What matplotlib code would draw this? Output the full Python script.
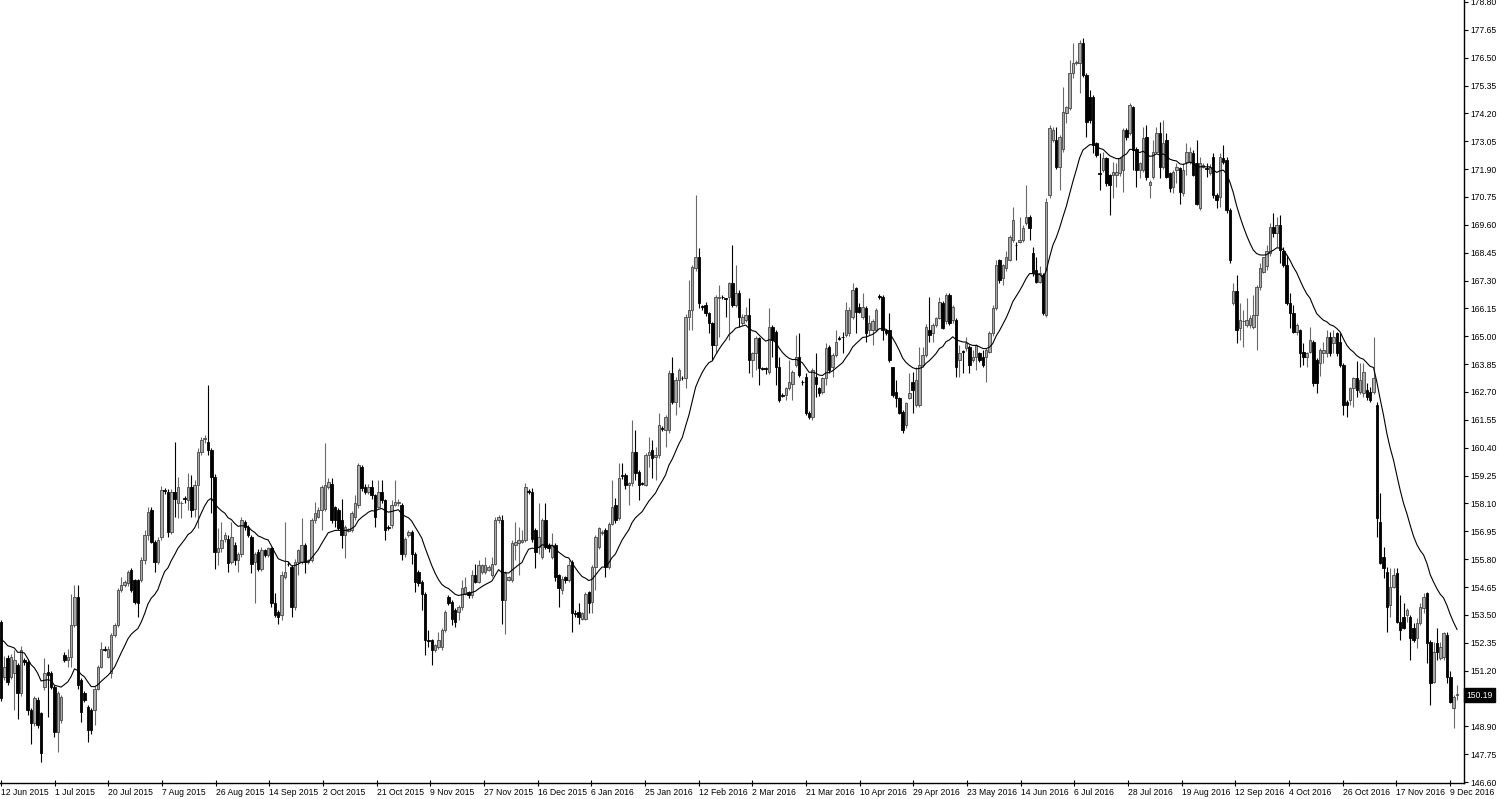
import matplotlib
matplotlib.use("Agg")
import matplotlib.pyplot as plt
import numpy as np

plt.rcParams['font.family'] = ['Liberation Sans', 'DejaVu Sans']

# Daily OHLC (one bar per trading day incl. Sunday bars)
opens = [
    153.21, 150.94, 151.70, 150.94, 151.08, 151.42, 150.26, 151.63, 151.56, 149.57,
    149.02, 149.98, 149.43, 150.53, 151.15, 151.08, 150.53, 148.67, 149.15, 151.84,
    151.63, 151.77, 153.08, 154.25, 150.81, 150.26, 149.70, 149.57, 149.57, 150.46,
    151.36, 152.11, 151.77, 151.08, 152.66, 153.08, 154.52, 154.73, 154.80, 155.35,
    154.93, 154.93, 154.93, 155.76, 156.80, 157.82, 156.51, 155.69, 156.72, 158.65,
    158.58, 156.93, 158.58, 158.10, 158.10, 158.30, 158.24, 158.79, 157.89, 158.85,
    160.23, 160.75, 160.64, 160.30, 159.20, 156.10, 156.24, 156.65, 156.65, 155.69,
    156.38, 155.76, 156.03, 157.34, 157.13, 156.72, 155.69, 156.10, 155.41, 156.17,
    155.96, 156.24, 153.97, 153.62, 153.49, 155.07, 155.62, 155.48, 153.83, 155.69,
    155.69, 156.38, 155.69, 155.76, 157.41, 157.55, 157.82, 157.89, 158.79, 158.92,
    157.96, 157.82, 157.41, 156.79, 156.98, 157.00, 157.55, 158.03, 159.61, 158.79,
    158.58, 158.79, 158.44, 157.96, 158.58, 158.24, 157.13, 157.20, 158.03, 158.10,
    158.03, 156.03, 156.79, 156.93, 156.03, 155.28, 154.87, 154.38, 152.46, 152.46,
    152.04, 152.18, 152.18, 152.87, 154.25, 154.04, 153.70, 153.63, 153.83, 154.38,
    154.45, 154.31, 155.14, 154.87, 155.28, 155.28, 155.35, 155.14, 155.62, 157.41,
    157.41, 154.11, 154.93, 154.93, 156.38, 156.45, 156.52, 156.59, 158.60, 158.58,
    157.00, 156.31, 155.90, 157.41, 156.38, 155.90, 156.38, 155.14, 154.52, 155.07,
    154.93, 155.69, 153.56, 153.63, 153.35, 153.35, 154.45, 154.04, 155.48, 156.31,
    156.86, 157.00, 155.48, 157.27, 158.03, 157.48, 159.27, 159.27, 158.86, 158.93,
    160.23, 159.41, 158.93, 158.86, 160.10, 160.30, 160.03, 160.10, 161.20, 161.13,
    161.13, 163.47, 162.30, 163.19, 163.28, 163.26, 165.81, 166.08, 167.80, 168.28,
    166.22, 166.29, 165.94, 165.53, 164.64, 166.56, 166.63, 166.56, 166.63, 167.18,
    166.29, 166.77, 165.53, 165.67, 165.88, 164.02, 164.29, 164.91, 163.67, 163.67,
    163.54, 165.39, 165.19, 163.74, 162.57, 162.57, 162.85, 163.05, 163.81, 164.16,
    163.12, 163.33, 161.82, 161.68, 163.33, 162.85, 162.71, 163.26, 164.57, 163.74,
    164.22, 164.91, 164.98, 165.05, 165.12, 165.81, 166.98, 166.22, 165.81, 166.16,
    165.26, 165.26, 165.26, 166.66, 166.64, 165.26, 165.26, 163.75, 162.71, 162.44,
    161.89, 161.34, 162.44, 163.13, 162.16, 162.16, 163.82, 164.23, 165.26, 165.12,
    165.47, 165.74, 166.36, 165.61, 166.71, 165.67, 165.67, 164.02, 164.37, 164.50,
    164.57, 164.02, 164.16, 164.30, 164.16, 164.16, 164.37, 165.12, 166.16, 168.15,
    167.39, 167.81, 168.15, 168.98, 168.77, 168.91, 168.98, 169.67, 169.94, 168.43,
    167.74, 167.26, 167.53, 165.88, 170.83, 173.10, 173.10, 172.00, 172.75, 174.20,
    174.41, 175.85, 176.26, 176.26, 177.09, 175.78, 174.89, 174.89, 172.96, 171.72,
    171.86, 172.34, 171.65, 171.65, 171.65, 171.72, 171.86, 173.51, 173.37, 174.47,
    172.75, 171.86, 171.86, 173.24, 171.24, 171.58, 172.62, 173.37, 172.00, 173.10,
    171.72, 171.17, 171.86, 171.93, 170.90, 172.20, 172.20, 172.55, 172.14, 170.28,
    172.00, 171.93, 171.72, 172.41, 170.83, 170.76, 172.34, 172.27, 170.21, 166.36,
    166.85, 165.33, 165.61, 165.47, 165.47, 165.40, 165.88, 167.05, 167.67, 167.88,
    168.43, 169.53, 169.25, 169.60, 168.50, 167.95, 166.36, 165.95, 165.19, 165.26,
    164.37, 164.16, 164.37, 164.78, 164.02, 163.89, 164.30, 164.30, 164.99, 164.71,
    165.13, 164.78, 163.82, 162.30, 162.37, 162.85, 163.27, 162.72, 162.65, 162.78,
    162.72, 162.72, 162.16, 157.35, 155.90, 155.28, 153.91, 154.66, 155.21, 153.22,
    153.42, 153.49, 153.42, 152.94, 152.53, 153.15, 153.77, 154.39, 152.39, 150.74,
    152.32, 151.70, 151.77, 152.67, 150.95, 149.64, 150.19,
]

highs = [
    153.30, 151.80, 151.85, 151.90, 152.04, 151.50, 152.20, 151.70, 151.65, 149.65,
    150.15, 150.10, 149.50, 151.70, 151.49, 151.20, 150.60, 150.35, 150.20, 151.95,
    152.10, 154.38, 154.73, 154.73, 150.90, 150.35, 149.80, 149.65, 150.55, 151.45,
    152.39, 152.20, 152.20, 152.75, 153.15, 154.60, 155.07, 154.95, 155.35, 155.45,
    155.00, 155.00, 155.90, 157.00, 157.95, 157.95, 156.60, 156.72, 158.80, 158.75,
    158.70, 158.70, 160.64, 159.20, 158.20, 158.40, 159.34, 159.27, 159.06, 160.40,
    160.85, 160.92, 162.98, 160.40, 159.30, 157.10, 157.34, 156.90, 156.80, 157.34,
    156.50, 156.10, 157.55, 157.41, 157.20, 156.80, 156.10, 156.20, 156.30, 156.20,
    156.30, 156.30, 154.40, 153.70, 155.30, 157.34, 155.70, 155.55, 155.80, 156.20,
    157.48, 156.45, 155.80, 157.50, 158.17, 157.96, 158.85, 160.58, 159.13, 159.13,
    158.00, 157.90, 158.30, 157.20, 157.10, 157.80, 158.44, 159.75, 159.68, 158.90,
    158.90, 159.06, 158.50, 159.06, 159.06, 158.30, 157.20, 158.24, 159.06, 158.30,
    158.10, 156.70, 157.00, 157.00, 156.10, 155.35, 154.95, 154.45, 152.87, 152.50,
    152.30, 152.80, 152.95, 153.70, 154.30, 154.10, 153.80, 153.90, 154.93, 155.07,
    154.50, 155.35, 155.62, 155.76, 155.60, 155.90, 155.55, 155.90, 157.55, 157.62,
    157.62, 155.30, 155.10, 156.59, 157.34, 157.14, 157.00, 158.93, 158.70, 158.72,
    157.10, 158.10, 157.48, 158.10, 156.45, 156.86, 156.45, 155.20, 155.10, 155.10,
    155.76, 155.76, 153.70, 153.97, 153.60, 154.45, 154.50, 155.55, 156.80, 157.14,
    157.00, 157.07, 157.34, 159.06, 158.31, 159.75, 159.75, 159.35, 159.00, 161.54,
    161.13, 159.50, 159.00, 160.20, 160.85, 160.72, 160.44, 161.82, 161.30, 161.75,
    163.60, 164.16, 163.30, 163.70, 163.35, 165.90, 167.32, 167.95, 170.83, 168.63,
    166.30, 166.43, 166.00, 165.60, 166.70, 167.11, 166.70, 166.60, 167.25, 168.77,
    167.94, 166.91, 165.90, 166.22, 166.56, 164.36, 165.00, 164.98, 163.75, 163.75,
    166.15, 165.45, 165.26, 164.16, 162.65, 162.90, 164.02, 163.60, 165.05, 165.12,
    163.20, 163.47, 161.90, 163.70, 164.29, 162.90, 163.30, 164.71, 164.65, 164.30,
    165.26, 165.00, 165.19, 166.43, 166.20, 167.19, 167.05, 166.36, 166.77, 166.25,
    165.88, 165.70, 166.15, 166.75, 166.70, 165.30, 165.95, 163.75, 163.20, 162.50,
    161.95, 162.30, 163.47, 163.54, 163.75, 164.57, 164.57, 165.50, 166.64, 165.55,
    165.80, 166.64, 166.45, 166.77, 166.77, 166.30, 165.75, 164.64, 164.45, 164.99,
    164.65, 164.44, 164.70, 164.35, 164.44, 164.50, 165.20, 166.30, 168.15, 168.20,
    168.00, 168.50, 169.20, 170.35, 168.91, 169.94, 169.60, 171.25, 170.00, 168.70,
    168.29, 167.88, 167.60, 170.70, 173.72, 173.65, 173.65, 173.30, 175.30, 174.50,
    176.40, 177.09, 176.40, 177.23, 177.30, 175.85, 175.16, 174.95, 173.00, 172.55,
    172.62, 172.40, 171.70, 172.20, 172.14, 172.40, 173.58, 173.58, 174.61, 174.50,
    172.80, 172.20, 173.65, 173.72, 171.45, 173.10, 173.65, 173.86, 173.92, 173.37,
    171.80, 171.85, 172.14, 172.00, 172.14, 172.96, 172.82, 172.70, 173.10, 172.41,
    172.14, 172.14, 172.10, 172.55, 170.90, 172.55, 172.89, 172.40, 170.30, 167.19,
    167.53, 166.36, 166.09, 166.57, 165.88, 166.71, 167.10, 168.02, 168.29, 168.77,
    169.67, 170.08, 169.94, 170.01, 168.70, 168.36, 166.78, 166.30, 165.55, 165.30,
    164.71, 164.35, 165.40, 164.85, 164.10, 164.50, 164.78, 165.26, 165.19, 165.26,
    165.19, 165.13, 163.90, 162.35, 162.90, 163.30, 163.96, 163.89, 163.90, 163.06,
    162.92, 164.99, 162.30, 158.52, 156.31, 155.49, 155.42, 155.42, 155.42, 154.32,
    153.97, 153.77, 153.50, 153.15, 153.36, 153.97, 154.39, 154.45, 152.46, 152.39,
    152.94, 152.39, 152.80, 152.80, 151.17, 150.19, 150.60,
]

lows = [
    149.95, 150.80, 150.60, 150.85, 149.57, 149.22, 150.15, 151.45, 149.36, 148.19,
    148.90, 148.85, 147.43, 150.40, 149.29, 150.45, 148.47, 147.84, 149.05, 151.55,
    151.35, 151.35, 153.00, 150.46, 149.08, 149.90, 148.26, 148.60, 148.95, 150.40,
    151.30, 152.00, 151.70, 150.90, 152.60, 153.00, 154.45, 154.65, 154.70, 154.45,
    153.95, 153.42, 154.85, 155.60, 156.60, 156.45, 155.28, 155.60, 156.60, 158.50,
    156.72, 156.85, 157.55, 157.48, 157.48, 158.10, 157.82, 157.55, 157.55, 157.07,
    160.10, 160.60, 160.10, 157.69, 155.41, 155.55, 156.10, 156.50, 155.28, 155.60,
    155.55, 155.28, 155.90, 157.00, 156.70, 155.21, 153.97, 155.30, 155.30, 155.90,
    155.90, 153.83, 153.40, 153.14, 153.30, 155.00, 155.50, 153.42, 153.70, 155.14,
    155.60, 155.21, 155.60, 155.70, 157.30, 157.50, 156.99, 157.80, 158.70, 157.30,
    157.13, 157.00, 156.24, 155.83, 156.90, 156.90, 157.40, 157.90, 158.60, 158.50,
    158.50, 158.30, 157.13, 157.90, 158.10, 156.58, 157.00, 157.10, 158.00, 158.00,
    155.76, 155.90, 156.70, 155.62, 154.45, 154.70, 153.70, 151.84, 152.18, 151.42,
    151.95, 152.10, 152.04, 152.80, 153.90, 153.08, 153.01, 153.28, 153.70, 154.30,
    154.20, 154.20, 154.80, 154.80, 155.20, 155.20, 155.30, 155.05, 155.55, 157.30,
    153.14, 152.73, 154.90, 154.85, 155.76, 155.14, 156.45, 156.50, 158.50, 156.50,
    155.42, 156.00, 155.80, 156.20, 156.10, 155.80, 154.90, 153.83, 154.38, 154.80,
    154.85, 152.80, 153.40, 153.14, 153.30, 153.28, 153.56, 153.56, 154.52, 156.20,
    156.80, 155.07, 155.40, 157.20, 157.30, 157.40, 159.10, 158.70, 158.03, 158.80,
    159.06, 158.24, 158.85, 158.80, 159.61, 159.13, 159.06, 159.96, 161.10, 160.44,
    160.99, 162.20, 161.75, 162.09, 163.20, 162.85, 165.26, 165.26, 167.70, 166.15,
    166.10, 165.85, 165.12, 164.02, 164.29, 164.98, 166.55, 165.81, 164.84, 166.22,
    166.20, 165.39, 165.45, 165.60, 163.47, 163.33, 163.61, 162.99, 163.60, 163.45,
    163.45, 164.16, 162.99, 162.30, 162.50, 162.37, 162.80, 162.37, 163.75, 163.30,
    163.00, 161.75, 161.60, 161.54, 162.50, 162.55, 162.60, 162.99, 163.50, 163.33,
    164.15, 164.85, 164.29, 164.98, 165.00, 165.70, 165.12, 165.95, 165.70, 164.78,
    165.05, 164.64, 165.20, 166.55, 164.85, 165.05, 163.95, 162.50, 162.10, 161.80,
    160.99, 161.20, 162.40, 161.82, 162.10, 162.10, 163.75, 164.15, 164.78, 164.78,
    165.40, 165.70, 165.30, 165.50, 165.45, 165.54, 163.33, 163.33, 163.47, 164.40,
    163.47, 163.95, 163.61, 163.95, 163.75, 163.13, 164.30, 165.00, 166.10, 167.20,
    167.12, 167.70, 168.10, 168.90, 168.15, 168.85, 168.90, 169.60, 168.98, 167.50,
    167.20, 167.20, 165.88, 165.80, 170.70, 173.00, 171.90, 171.03, 172.60, 173.79,
    174.35, 175.64, 176.20, 175.03, 175.70, 173.24, 173.80, 172.55, 172.40, 171.03,
    171.80, 171.20, 170.00, 170.69, 171.17, 171.60, 170.97, 173.10, 173.30, 171.86,
    171.17, 171.52, 171.80, 171.45, 170.69, 171.50, 172.55, 171.52, 171.90, 171.52,
    170.97, 170.90, 171.31, 170.48, 170.80, 171.65, 172.10, 171.60, 170.40, 170.20,
    171.95, 171.58, 171.65, 170.69, 170.28, 170.35, 172.10, 170.10, 168.01, 166.29,
    164.71, 164.85, 164.57, 165.40, 165.33, 165.30, 164.44, 166.90, 167.60, 167.74,
    168.30, 169.10, 168.70, 168.02, 167.85, 166.30, 165.33, 165.13, 165.06, 163.75,
    163.82, 163.75, 164.30, 162.95, 162.65, 163.34, 163.89, 164.16, 164.20, 164.30,
    164.20, 163.75, 161.75, 161.68, 162.17, 162.10, 162.51, 162.60, 162.51, 162.37,
    162.30, 162.60, 156.73, 155.60, 155.01, 152.80, 153.42, 154.60, 153.15, 152.46,
    152.90, 153.22, 151.64, 152.39, 152.12, 153.10, 153.57, 151.50, 149.78, 150.67,
    151.64, 151.64, 151.64, 150.67, 149.85, 148.81, 149.98,
]

closes = [
    150.05, 151.36, 150.74, 151.77, 151.63, 150.26, 152.04, 151.56, 149.57, 149.02,
    150.05, 148.95, 147.78, 151.08, 151.01, 150.53, 148.67, 150.26, 150.12, 151.63,
    151.77, 153.08, 154.25, 150.60, 149.50, 149.98, 148.74, 148.74, 150.46, 151.36,
    152.11, 152.07, 152.11, 152.66, 153.08, 154.52, 154.73, 154.87, 155.28, 154.52,
    154.04, 153.97, 155.76, 156.80, 157.75, 156.51, 155.69, 156.58, 158.65, 158.60,
    156.93, 158.58, 158.30, 158.79, 158.12, 158.28, 158.79, 157.82, 158.85, 160.23,
    160.71, 160.78, 160.30, 159.20, 156.10, 156.24, 156.58, 156.79, 155.65, 156.72,
    155.76, 156.03, 157.41, 157.13, 156.79, 155.62, 156.03, 155.41, 156.17, 155.96,
    156.24, 153.97, 153.49, 153.42, 155.14, 155.28, 155.58, 153.83, 155.69, 156.17,
    156.38, 155.69, 155.76, 157.41, 157.69, 157.82, 158.79, 158.85, 158.99, 157.41,
    157.41, 157.07, 156.79, 157.13, 157.05, 157.69, 158.10, 159.68, 158.72, 158.58,
    158.79, 158.44, 157.55, 158.58, 158.24, 157.00, 157.10, 158.03, 158.17, 158.17,
    156.03, 156.65, 156.93, 156.03, 154.87, 154.80, 154.38, 152.46, 152.42, 152.04,
    152.25, 152.46, 152.87, 153.63, 153.97, 153.35, 153.21, 153.83, 154.59, 154.66,
    154.31, 155.14, 154.87, 155.55, 155.55, 155.55, 155.48, 155.62, 157.41, 157.55,
    154.11, 155.21, 155.07, 156.45, 156.52, 156.59, 156.59, 158.79, 158.58, 156.65,
    156.10, 156.72, 157.41, 156.31, 156.24, 156.38, 155.07, 154.59, 155.00, 154.93,
    155.55, 153.56, 153.54, 153.42, 153.56, 154.38, 153.97, 155.48, 156.72, 157.07,
    156.93, 155.48, 157.27, 157.96, 157.41, 159.13, 159.25, 158.86, 158.95, 160.23,
    159.34, 158.86, 158.91, 160.10, 160.23, 159.96, 160.10, 161.34, 161.18, 161.68,
    163.47, 162.30, 163.19, 163.61, 163.26, 165.81, 166.08, 167.87, 168.28, 166.36,
    166.20, 165.94, 165.53, 164.64, 166.63, 166.63, 166.61, 166.54, 167.18, 166.29,
    166.77, 165.81, 165.81, 165.88, 164.02, 164.29, 164.91, 163.67, 163.65, 163.65,
    165.39, 164.84, 163.74, 162.37, 162.55, 162.85, 163.12, 163.54, 164.16, 163.40,
    163.10, 161.82, 161.68, 163.61, 163.05, 162.64, 163.26, 164.50, 163.61, 164.22,
    164.78, 164.89, 164.96, 166.08, 166.08, 166.91, 166.02, 166.02, 166.22, 165.12,
    165.54, 165.61, 166.09, 166.64, 165.26, 165.12, 164.02, 162.58, 162.44, 161.82,
    161.13, 162.23, 162.65, 162.78, 163.20, 163.82, 164.23, 165.40, 165.05, 165.47,
    165.74, 166.43, 165.33, 166.71, 165.54, 166.22, 163.75, 164.30, 164.35, 164.71,
    163.82, 164.16, 164.64, 164.02, 163.82, 164.44, 165.12, 166.16, 167.95, 167.33,
    167.95, 168.29, 169.11, 169.80, 168.75, 168.98, 169.46, 169.94, 169.46, 167.60,
    167.26, 167.60, 165.95, 170.56, 173.58, 173.51, 172.00, 173.24, 174.27, 174.47,
    175.85, 176.26, 176.33, 177.09, 175.78, 173.86, 173.92, 172.89, 172.48, 171.70,
    172.34, 171.31, 171.24, 171.79, 171.79, 172.34, 173.51, 173.24, 174.54, 172.69,
    171.86, 172.14, 173.17, 171.58, 171.38, 172.62, 173.37, 172.00, 172.96, 171.58,
    171.10, 171.79, 172.00, 170.97, 171.86, 172.62, 172.62, 171.65, 170.48, 172.14,
    172.07, 171.91, 172.00, 170.83, 170.62, 172.41, 172.20, 170.21, 168.14, 166.85,
    165.26, 165.68, 165.63, 165.68, 165.74, 165.88, 167.05, 167.81, 168.29, 168.50,
    169.53, 169.25, 169.60, 168.57, 167.95, 166.36, 165.95, 165.19, 165.47, 164.30,
    164.16, 164.30, 164.85, 163.06, 163.06, 164.44, 164.44, 164.99, 164.30, 164.99,
    164.30, 163.82, 162.17, 162.17, 162.85, 163.27, 162.78, 163.20, 163.54, 162.51,
    162.37, 163.27, 157.48, 155.63, 155.42, 153.84, 154.66, 155.14, 153.22, 152.87,
    152.94, 153.70, 152.53, 152.46, 153.15, 153.84, 154.25, 152.32, 150.67, 151.98,
    151.98, 152.19, 152.74, 150.95, 149.91, 150.12, 150.19,
]

date_labels = [
    "12 Jun 2015", "1 Jul 2015", "20 Jul 2015", "7 Aug 2015", "26 Aug 2015",
    "14 Sep 2015", "2 Oct 2015", "21 Oct 2015", "9 Nov 2015", "27 Nov 2015",
    "16 Dec 2015", "6 Jan 2016", "25 Jan 2016", "12 Feb 2016", "2 Mar 2016",
    "21 Mar 2016", "10 Apr 2016", "29 Apr 2016", "23 May 2016", "14 Jun 2016",
    "6 Jul 2016", "28 Jul 2016", "19 Aug 2016", "12 Sep 2016", "4 Oct 2016",
    "26 Oct 2016", "17 Nov 2016", "9 Dec 2016",
]

ma_period = 20       # exponential moving average
ma_start = 152.75    # MA level at the left edge of the chart
last_price = 150.19

n = len(closes)
assert len(opens) == n and len(highs) == n and len(lows) == n, (len(opens), len(highs), len(lows), n)

x = np.arange(n)
o = np.array(opens)
h = np.array(highs)
l = np.array(lows)
c = np.array(closes)
up = c >= o

# EMA(20) on closes, seeded with the level visible at the left edge
alpha = 2.0 / (ma_period + 1)
ma = np.empty(n)
prev = ma_start
for i in range(n):
    prev = prev + alpha * (c[i] - prev)
    ma[i] = prev

fig = plt.figure(figsize=(15, 7.99), dpi=100)
ax = fig.add_axes([0, 16 / 799, 1464 / 1500, 783 / 799])

# wicks
ax.vlines(x[up], l[up], h[up], color='#6a6a6a', lw=0.8, zorder=2)
ax.vlines(x[~up], l[~up], h[~up], color='black', lw=0.8, zorder=2)

# bodies
body_lo = np.minimum(o, c)
body_h = np.maximum(np.abs(c - o), 0.03)
ax.bar(x[up], body_h[up], bottom=body_lo[up], width=0.74,
       color='#a9a9a9', edgecolor='#454545', linewidth=0.6, zorder=3)
ax.bar(x[~up], body_h[~up], bottom=body_lo[~up], width=0.74,
       color='black', edgecolor='black', linewidth=0.6, zorder=3)

# moving average
ax.plot(x, ma, color='black', lw=0.8, zorder=4)

ax.set_xlim(-0.3, 438.1)
ax.set_ylim(146.56, 178.88)

yt = np.round(np.arange(146.60, 178.81, 1.15), 2)
ax.yaxis.tick_right()
ax.set_yticks(yt)
ax.set_yticklabels([f"{v:.2f}" for v in yt])

tick_pos = np.arange(len(date_labels)) * 16.07
ax.set_xticks(tick_pos)
ax.set_xticklabels(date_labels, ha='left')

ax.tick_params(axis='y', direction='out', length=3, width=0.8, pad=1.5,
               labelsize=6.2, colors='black')
ax.tick_params(axis='x', direction='inout', length=4, width=0.8, pad=1.5,
               labelsize=6.2, colors='black')

for s in ['top', 'left']:
    ax.spines[s].set_visible(False)
for s in ['right', 'bottom']:
    ax.spines[s].set_linewidth(1.0)
    ax.spines[s].set_color('black')

# current price tag
ax.text(1.0018, last_price, f"{last_price:.2f}", transform=ax.get_yaxis_transform(),
        ha='left', va='center', fontsize=6.2, color='white', zorder=10,
        bbox=dict(boxstyle='square,pad=0.25', fc='black', ec='black'))

fig.savefig("out.png", dpi=100, facecolor='white')
